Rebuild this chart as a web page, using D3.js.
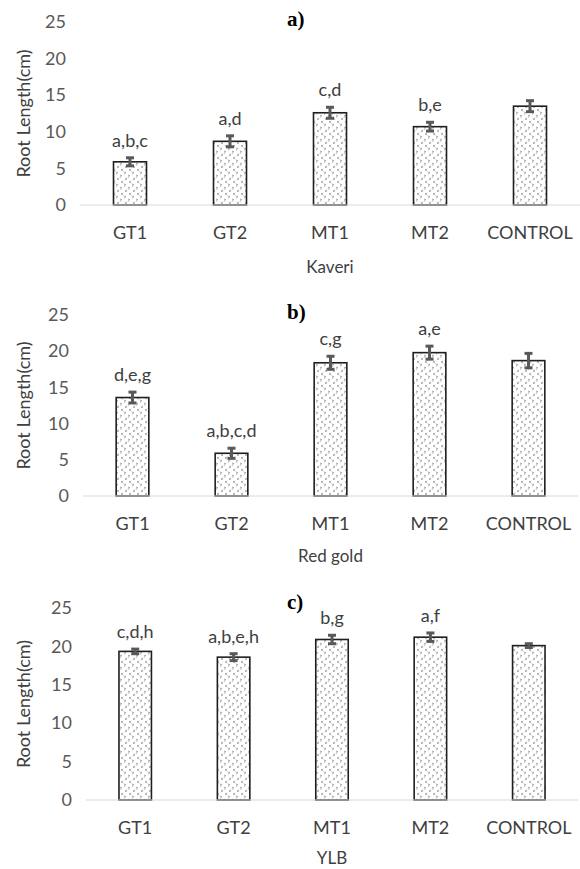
<!DOCTYPE html>
<html>
<head>
<meta charset="utf-8">
<script src="https://cdn.jsdelivr.net/npm/d3@7"></script>
<style>
  body { margin: 0; background: #fff; }
  svg { display: block; }
</style>
</head>
<body>
<div id="chart"></div>
<script>
// categories and values
let categories = ["GT1", "GT2", "MT1", "MT2", "CONTROL"];
let yTicks = [0, 5, 10, 15, 20, 25];

let kaveriMeans = [5.9, 8.7, 12.6, 10.7, 13.5];
let kaveriErr = [0.55, 0.75, 0.75, 0.6, 0.75];
let kaveriLetters = ["a,b,c", "a,d", "c,d", "b,e", ""];

let redGoldMeans = [13.6, 5.9, 18.4, 19.8, 18.7];
let redGoldErr = [0.75, 0.7, 0.9, 0.9, 1.0];
let redGoldLetters = ["d,e,g", "a,b,c,d", "c,g", "a,e", ""];

let ylbMeans = [19.35, 18.6, 20.9, 21.2, 20.1];
let ylbErr = [0.3, 0.45, 0.55, 0.55, 0.25];
let ylbLetters = ["c,d,h", "a,b,e,h", "b,g", "a,f", ""];

let panels = [
    {tag: "a)", name: "Kaveri", means: kaveriMeans, err: kaveriErr, letters: kaveriLetters,
     top: 22, bottom: 205, left: 80, right: 580, titleY: 26, nameY: 273},
    {tag: "b)", name: "Red gold", means: redGoldMeans, err: redGoldErr, letters: redGoldLetters,
     top: 315, bottom: 496, left: 83, right: 578, titleY: 319, nameY: 562},
    {tag: "c)", name: "YLB", means: ylbMeans, err: ylbErr, letters: ylbLetters,
     top: 608, bottom: 800, left: 86, right: 578, titleY: 609, nameY: 864}
];

let font = "Lato, 'Open Sans', sans-serif";

let svg = d3.select("#chart").append("svg")
    .attr("width", 580)
    .attr("height", 869);

// dotted fill like the excel pattern
let pat = svg.append("defs").append("pattern")
    .attr("id", "dots")
    .attr("patternUnits", "userSpaceOnUse")
    .attr("width", 8)
    .attr("height", 12);
pat.append("rect").attr("width", 8).attr("height", 12).attr("fill", "#fff");
[[1.5, 2, 1], [5.5, 5, -1], [1.5, 8, -1], [5.5, 11, 1]].forEach(m => {
    pat.append("path")
        .attr("d", `M${m[0] + m[2] * 1.2},${m[1] - 1.2}L${m[0]},${m[1]}L${m[0] + m[2] * 1.2},${m[1] + 1.2}`)
        .attr("fill", "none")
        .attr("stroke", "#777")
        .attr("stroke-width", 1);
});

panels.forEach(p => {
    let g = svg.append("g");

    let x = d3.scaleBand()
        .domain(categories)
        .range([p.left, p.right])
        .paddingInner(0.67)
        .paddingOuter(0.335);

    let y = d3.scaleLinear()
        .domain([0, 25])
        .range([p.bottom, p.top]);

    // y axis labels (no line, excel style)
    let yAxis = g.append("g")
        .attr("transform", `translate(${p.left - 14},0)`)
        .call(d3.axisLeft(y).tickValues(yTicks).tickSize(0).tickPadding(0));
    yAxis.select(".domain").remove();
    yAxis.selectAll("text")
        .attr("font-family", font)
        .attr("font-size", 18)
        .attr("fill", "#595959");

    // bars
    g.selectAll(".bar")
        .data(categories)
        .enter()
        .append("rect")
        .attr("x", d => x(d))
        .attr("y", (d, i) => y(p.means[i]))
        .attr("width", x.bandwidth())
        .attr("height", (d, i) => y(0) - y(p.means[i]))
        .attr("fill", "url(#dots)")
        .attr("stroke", "#1f1f1f")
        .attr("stroke-width", 1.6);

    // baseline
    g.append("line")
        .attr("x1", p.left)
        .attr("x2", p.right)
        .attr("y1", y(0))
        .attr("y2", y(0))
        .attr("stroke", "#d9d9d9")
        .attr("stroke-width", 1);

    // error bars
    categories.forEach((c, i) => {
        let cx = x(c) + x.bandwidth() / 2;
        let lo = y(p.means[i] - p.err[i]);
        let hi = y(p.means[i] + p.err[i]);
        let eb = g.append("g")
            .attr("stroke", "#595959")
            .attr("stroke-width", 3);
        eb.append("line").attr("x1", cx).attr("x2", cx).attr("y1", lo).attr("y2", hi);
        eb.append("line").attr("x1", cx - 4).attr("x2", cx + 4).attr("y1", lo).attr("y2", lo);
        eb.append("line").attr("x1", cx - 4).attr("x2", cx + 4).attr("y1", hi).attr("y2", hi);

        // significance letters
        g.append("text")
            .attr("x", cx)
            .attr("y", hi - 11)
            .attr("text-anchor", "middle")
            .attr("font-family", font)
            .attr("font-size", 18)
            .attr("fill", "#404040")
            .text(p.letters[i]);
    });

    // x axis labels
    let xAxis = g.append("g")
        .attr("transform", `translate(0,${p.bottom})`)
        .call(d3.axisBottom(x).tickSize(0).tickPadding(0));
    xAxis.select(".domain").remove();
    xAxis.selectAll("text")
        .attr("dy", null)
        .attr("y", 34)
        .attr("font-family", font)
        .attr("font-size", 18)
        .attr("fill", "#404040");

    // x axis title
    g.append("text")
        .attr("x", (p.left + p.right) / 2)
        .attr("y", p.nameY)
        .attr("text-anchor", "middle")
        .attr("font-family", font)
        .attr("font-size", 17)
        .attr("fill", "#404040")
        .text(p.name);

    // y axis title
    g.append("text")
        .attr("transform", `translate(30,${(p.top + p.bottom) / 2}) rotate(-90)`)
        .attr("text-anchor", "middle")
        .attr("font-family", font)
        .attr("font-size", 18)
        .attr("fill", "#404040")
        .text("Root Length(cm)");

    // panel tag
    g.append("text")
        .attr("x", 287)
        .attr("y", p.titleY)
        .attr("font-family", "'Liberation Serif', 'Times New Roman', serif")
        .attr("font-weight", "bold")
        .attr("font-size", 21)
        .attr("fill", "#000")
        .text(p.tag);
});
</script>
</body>
</html>
